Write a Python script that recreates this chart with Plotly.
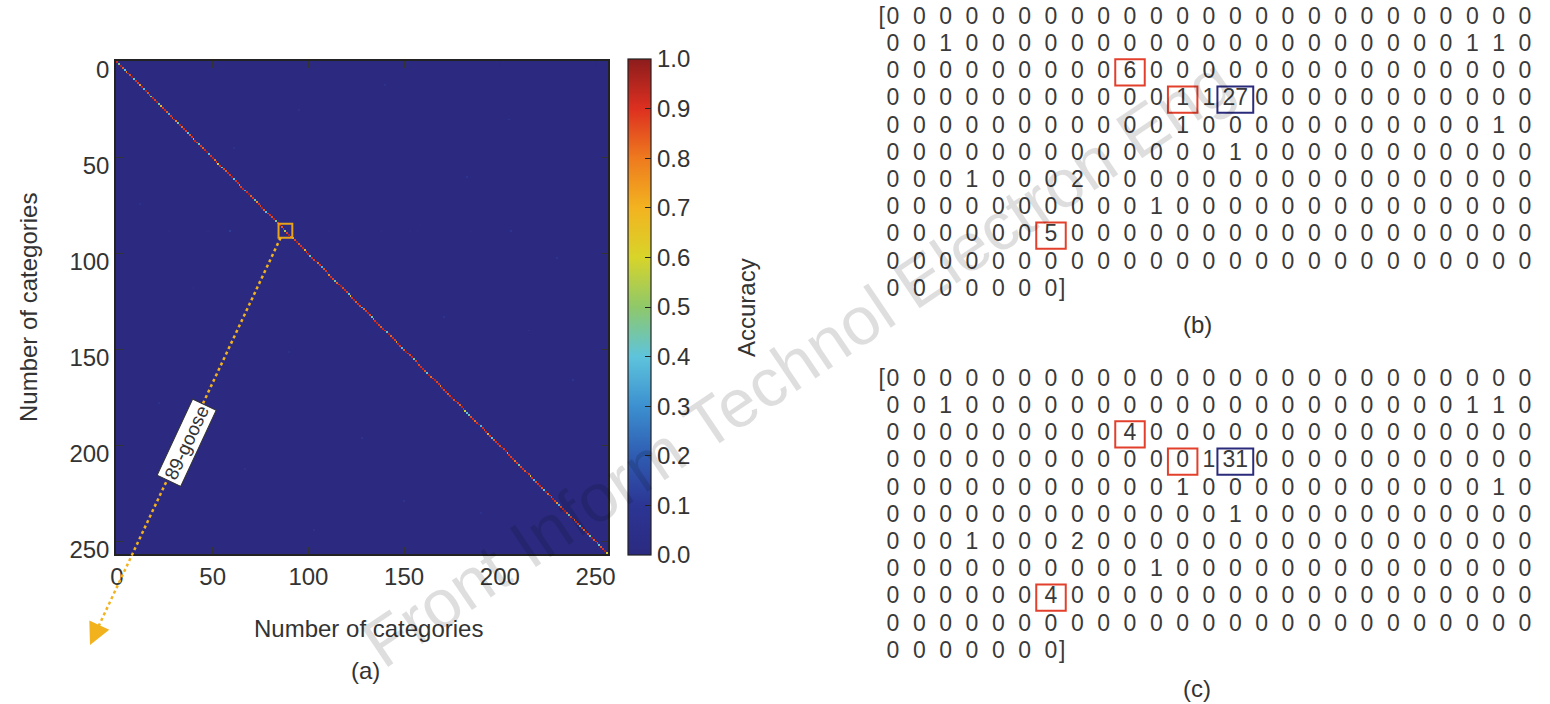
import plotly.graph_objects as go

# ---------------- data ----------------
n_cat = 257
tick_vals = [0, 50, 100, 150, 200, 250]
cbar_vals = [0.0, 0.1, 0.2, 0.3, 0.4, 0.5, 0.6, 0.7, 0.8, 0.9, 1.0]
goose_idx = 88
goose_label = "89-goose"
n_test = 50

# per-category accuracy on the diagonal
diag_acc = [
    0.92, 0.48, 0.95, 0.84, 0.40, 0.78, 0.93, 0.86, 0.97, 0.42, 0.91, 0.88, 0.74, 0.94, 0.38, 0.96, 0.85, 0.90, 0.50, 0.93,
    0.87, 0.95, 0.44, 0.68, 0.88, 0.92, 0.84, 0.36, 0.90, 0.86, 0.93, 0.79, 0.45, 0.94, 0.82, 0.91, 0.88, 0.40, 0.85, 0.90,
    0.72, 0.93, 0.87, 0.42, 0.89, 0.83, 0.92, 0.98, 0.38, 0.90, 0.94, 0.81, 0.88, 0.62, 0.91, 0.46, 0.87, 0.84, 0.93, 0.89,
    0.96, 0.40, 0.90, 0.92, 0.78, 0.88, 0.94, 0.35, 0.91, 0.97, 0.83, 0.89, 0.44, 0.76, 0.90, 0.87, 0.95, 0.84, 0.39, 0.88,
    0.91, 0.86, 0.94, 0.48, 0.89, 0.93, 0.85, 0.90, 0.54, 0.88, 0.95, 0.82, 0.41, 0.87, 0.96, 0.84, 0.90, 0.93, 0.70, 0.89,
    0.94, 0.43, 0.92, 0.88, 0.97, 0.81, 0.90, 0.37, 0.85, 0.89, 0.95, 0.77, 0.91, 0.87, 0.45, 0.83, 0.90, 0.96, 0.86, 0.92,
    0.88, 0.40, 0.66, 0.90, 0.95, 0.84, 0.91, 0.87, 0.36, 0.82, 0.89, 0.94, 0.86, 0.44, 0.79, 0.90, 0.95, 0.88, 0.84, 0.93,
    0.90, 0.42, 0.96, 0.83, 0.91, 0.88, 0.74, 0.94, 0.89, 0.38, 0.85, 0.97, 0.90, 0.87, 0.93, 0.46, 0.88, 0.95, 0.86, 0.91,
    0.93, 0.85, 0.41, 0.96, 0.82, 0.89, 0.94, 0.87, 0.91, 0.78, 0.95, 0.88, 0.92, 0.84, 0.90, 0.97, 0.86, 0.93, 0.89, 0.83,
    0.94, 0.90, 0.58, 0.39, 0.44, 0.86, 0.92, 0.81, 0.90, 0.96, 0.37, 0.91, 0.87, 0.93, 0.72, 0.89, 0.42, 0.84, 0.90, 0.92,
    0.86, 0.94, 0.89, 0.97, 0.43, 0.91, 0.88, 0.93, 0.80, 0.90, 0.45, 0.87, 0.92, 0.85, 0.96, 0.89, 0.64, 0.91, 0.38, 0.86,
    0.90, 0.93, 0.84, 0.41, 0.96, 0.82, 0.91, 0.87, 0.95, 0.89, 0.76, 0.36, 0.86, 0.92, 0.97, 0.85, 0.44, 0.88, 0.94, 0.83,
    0.91, 0.87, 0.40, 0.89, 0.80, 0.93, 0.86, 0.46, 0.96, 0.84, 0.92, 0.88, 0.42, 0.85, 0.90, 0.97, 0.62,
]

# a few faint off-diagonal confusions visible as speckles: (true, predicted, rate)
off_diag = [
    (12, 140, 0.06), (30, 205, 0.08), (45, 61, 0.06), (60, 183, 0.08), (74, 12, 0.06),
    (102, 230, 0.08), (118, 40, 0.06), (133, 171, 0.08), (151, 90, 0.06), (166, 238, 0.08),
    (178, 22, 0.06), (196, 128, 0.08), (212, 67, 0.06), (229, 150, 0.08), (244, 103, 0.06),
    (25, 95, 0.06), (88, 170, 0.06), (140, 215, 0.06), (200, 35, 0.06), (235, 190, 0.06),
]

# goose row of the confusion matrix, panel (b)
row_b = [
    0, 0, 0, 0, 0, 0, 0, 0, 0, 0, 0, 0, 0, 0, 0, 0, 0, 0, 0, 0, 0, 0, 0, 0, 0,
    0, 0, 1, 0, 0, 0, 0, 0, 0, 0, 0, 0, 0, 0, 0, 0, 0, 0, 0, 0, 0, 0, 1, 1, 0,
    0, 0, 0, 0, 0, 0, 0, 0, 0, 6, 0, 0, 0, 0, 0, 0, 0, 0, 0, 0, 0, 0, 0, 0, 0,
    0, 0, 0, 0, 0, 0, 0, 0, 0, 0, 0, 1, 1, 27, 0, 0, 0, 0, 0, 0, 0, 0, 0, 0, 0,
    0, 0, 0, 0, 0, 0, 0, 0, 0, 0, 0, 1, 0, 0, 0, 0, 0, 0, 0, 0, 0, 0, 0, 1, 0,
    0, 0, 0, 0, 0, 0, 0, 0, 0, 0, 0, 0, 0, 1, 0, 0, 0, 0, 0, 0, 0, 0, 0, 0, 0,
    0, 0, 0, 1, 0, 0, 0, 2, 0, 0, 0, 0, 0, 0, 0, 0, 0, 0, 0, 0, 0, 0, 0, 0, 0,
    0, 0, 0, 0, 0, 0, 0, 0, 0, 0, 1, 0, 0, 0, 0, 0, 0, 0, 0, 0, 0, 0, 0, 0, 0,
    0, 0, 0, 0, 0, 0, 5, 0, 0, 0, 0, 0, 0, 0, 0, 0, 0, 0, 0, 0, 0, 0, 0, 0, 0,
    0, 0, 0, 0, 0, 0, 0, 0, 0, 0, 0, 0, 0, 0, 0, 0, 0, 0, 0, 0, 0, 0, 0, 0, 0,
    0, 0, 0, 0, 0, 0, 0,
]

# goose row, panel (c)
row_c = [
    0, 0, 0, 0, 0, 0, 0, 0, 0, 0, 0, 0, 0, 0, 0, 0, 0, 0, 0, 0, 0, 0, 0, 0, 0,
    0, 0, 1, 0, 0, 0, 0, 0, 0, 0, 0, 0, 0, 0, 0, 0, 0, 0, 0, 0, 0, 0, 1, 1, 0,
    0, 0, 0, 0, 0, 0, 0, 0, 0, 4, 0, 0, 0, 0, 0, 0, 0, 0, 0, 0, 0, 0, 0, 0, 0,
    0, 0, 0, 0, 0, 0, 0, 0, 0, 0, 0, 0, 1, 31, 0, 0, 0, 0, 0, 0, 0, 0, 0, 0, 0,
    0, 0, 0, 0, 0, 0, 0, 0, 0, 0, 0, 1, 0, 0, 0, 0, 0, 0, 0, 0, 0, 0, 0, 1, 0,
    0, 0, 0, 0, 0, 0, 0, 0, 0, 0, 0, 0, 0, 1, 0, 0, 0, 0, 0, 0, 0, 0, 0, 0, 0,
    0, 0, 0, 1, 0, 0, 0, 2, 0, 0, 0, 0, 0, 0, 0, 0, 0, 0, 0, 0, 0, 0, 0, 0, 0,
    0, 0, 0, 0, 0, 0, 0, 0, 0, 0, 1, 0, 0, 0, 0, 0, 0, 0, 0, 0, 0, 0, 0, 0, 0,
    0, 0, 0, 0, 0, 0, 4, 0, 0, 0, 0, 0, 0, 0, 0, 0, 0, 0, 0, 0, 0, 0, 0, 0, 0,
    0, 0, 0, 0, 0, 0, 0, 0, 0, 0, 0, 0, 0, 0, 0, 0, 0, 0, 0, 0, 0, 0, 0, 0, 0,
    0, 0, 0, 0, 0, 0, 0,
]
red_idx = [59, 86, 206]
blue_idx = [88]
per_line = 25

# ---------------- figure ----------------
W, H = 1550, 704
FONT = "Liberation Sans, Arial, Helvetica, sans-serif"
TXT = "#333333"


def px(xp):
    return xp / W


def py(yp):
    return 1 - yp / H


def label(text, x, y, size=24, angle=0, **kw):
    d = dict(text=text, x=px(x), y=py(y), xref="paper", yref="paper",
             xanchor="center", yanchor="middle", showarrow=False, textangle=angle,
             font=dict(family=FONT, size=size, color=kw.pop("color", TXT)))
    d.update(kw)
    return d


# heatmap matrix
z = [[0.0] * n_cat for _ in range(n_cat)]
for i in range(min(len(diag_acc), n_cat)):
    z[i][i] = diag_acc[i]
for r, c, v in off_diag:
    z[r][c] = v
z[goose_idx] = [v / n_test for v in row_b]

colorscale = [
    [0.0, "#2b2a80"], [0.1, "#2c3594"], [0.2, "#2f5cb2"], [0.3, "#3c90d0"],
    [0.4, "#5ec4dc"], [0.5, "#8fc86a"], [0.6, "#d8d42a"], [0.7, "#f3b320"],
    [0.8, "#ee7a1e"], [0.9, "#dd3020"], [1.0, "#8c1c1c"],
]

hm_x0, hm_x1, hm_y0, hm_y1 = 116, 608, 61, 554

fig = go.Figure()
fig.add_trace(go.Heatmap(
    z=z, x=list(range(n_cat)), y=list(range(n_cat)),
    colorscale=colorscale, zmin=0, zmax=1, hoverinfo="skip",
    colorbar=dict(
        x=px(628), xanchor="left", xpad=0, thickness=23,
        lenmode="pixels", len=496, y=py(307), yanchor="middle", ypad=0,
        tickvals=cbar_vals, ticktext=["%.1f" % v for v in cbar_vals],
        ticks="inside", ticklen=6, tickcolor="#222", tickwidth=1.2,
        outlinecolor="#222", outlinewidth=1.2,
        tickfont=dict(family=FONT, size=24, color=TXT),
    ),
))

axis_common = dict(
    tickvals=tick_vals, ticks="inside", ticklen=7, tickcolor="#333",
    showline=True, linecolor="#222", linewidth=1.5, mirror="ticks",
    showgrid=False, zeroline=False, automargin=False,
    tickfont=dict(family=FONT, size=24, color=TXT),
)
fig.update_layout(
    xaxis=dict(domain=[px(hm_x0), px(hm_x1)], range=[-0.5, n_cat - 0.5], **axis_common),
    yaxis=dict(domain=[py(hm_y1), py(hm_y0)], range=[n_cat - 0.5, -0.5],
               ticklabelshift=-8, **axis_common),
)

# text matrices (b) and (c)
col_x0, col_x1 = 893, 1525
half = (col_x1 - col_x0) / (per_line - 1) / 2
row_gap = 27.2
panels = [(row_b, "x2", "y2", 18, "(b)", 324), (row_c, "x3", "y3", 380, "(c)", 688)]
shapes = []
annotations = []
for k, (vals, xa, ya, top_row_y, lab, lab_y) in enumerate(panels):
    n_rows = (len(vals) + per_line - 1) // per_line
    xs = [i % per_line for i in range(len(vals))]
    ys = [i // per_line for i in range(len(vals))]
    txt = [str(v) for v in vals]
    # brackets
    xs += [-0.43, (len(vals) - 1) % per_line + 0.43]
    ys += [0, (len(vals) - 1) // per_line]
    txt += ["[", "]"]
    fig.add_trace(go.Scatter(
        x=xs, y=ys, text=txt, mode="text", xaxis=xa, yaxis=ya,
        textfont=dict(family=FONT, size=23, color="#3a3a3a"),
        hoverinfo="skip", showlegend=False, cliponaxis=False,
    ))
    ax_name = "xaxis%d" % (k + 2)
    ay_name = "yaxis%d" % (k + 2)
    top_px = top_row_y - row_gap / 2
    bot_px = top_row_y + (n_rows - 1) * row_gap + row_gap / 2
    fig.update_layout(**{
        ax_name: dict(domain=[px(col_x0 - half), px(col_x1 + half)],
                      range=[-0.5, per_line - 0.5], visible=False, anchor=ya, automargin=False),
        ay_name: dict(domain=[py(bot_px), py(top_px)],
                      range=[n_rows - 0.5, -0.5], visible=False, anchor=xa, automargin=False),
    })
    for idxs, color, hw in ((red_idx, "#e2402c", 0.56), (blue_idx, "#2b2b7c", 0.68)):
        for i in idxs:
            c, r = i % per_line, i // per_line
            shapes.append(dict(type="rect", xref=xa, yref=ya,
                               x0=c - hw, x1=c + hw, y0=r - 0.48, y1=r + 0.48,
                               line=dict(color=color, width=2)))
    annotations.append(label(lab, 1197, lab_y))

# goose highlight on heatmap
g = goose_idx
shapes.append(dict(type="rect", xref="x", yref="y", x0=g - 3.6, x1=g + 3.6, y0=g - 3.6, y1=g + 3.6,
                   line=dict(color="#e8a21c", width=2)))


def data_to_px(dx, dy):
    sx = (hm_x1 - hm_x0) / n_cat
    sy = (hm_y1 - hm_y0) / n_cat
    return hm_x0 + (dx + 0.5) * sx, hm_y0 + (dy + 0.5) * sy


sx_, sy_ = data_to_px(g - 2.5, g + 3.6)
tip_x, tip_y = 90, 645
shapes.append(dict(type="line", xref="paper", yref="paper",
                   x0=px(sx_), y0=py(sy_), x1=px(tip_x + 4), y1=py(tip_y - 9),
                   line=dict(color="#f2b21e", width=2.5, dash="dot")))
annotations.append(dict(x=px(tip_x), y=py(tip_y), xref="paper", yref="paper", text="",
                        showarrow=True, ax=7, ay=-15, arrowhead=2, arrowsize=2.2,
                        arrowwidth=2, arrowcolor="#f2b21e"))
annotations.append(label(goose_label, 186, 443, size=19, angle=-65,
                         bgcolor="white", bordercolor="#333", borderwidth=1, borderpad=2))

# axis titles and panel label (a)
annotations += [
    label("Number of categories", 368, 628),
    label("Number of categories", 28, 308, angle=-90),
    label("Accuracy", 746, 308, angle=-90),
    label("(a)", 365, 670),
    label("Front Inform Technol Electron Eng", 797, 362, size=68, angle=-34,
          color="rgba(0,0,0,0.13)"),
]

fig.update_layout(
    width=W, height=H, margin=dict(l=0, r=0, t=0, b=0, autoexpand=False),
    paper_bgcolor="white", plot_bgcolor="white", showlegend=False,
    shapes=shapes, annotations=annotations,
)
fig.write_html("out.html", config={"displayModeBar": False},
               post_script="document.body.style.margin='0px';")
